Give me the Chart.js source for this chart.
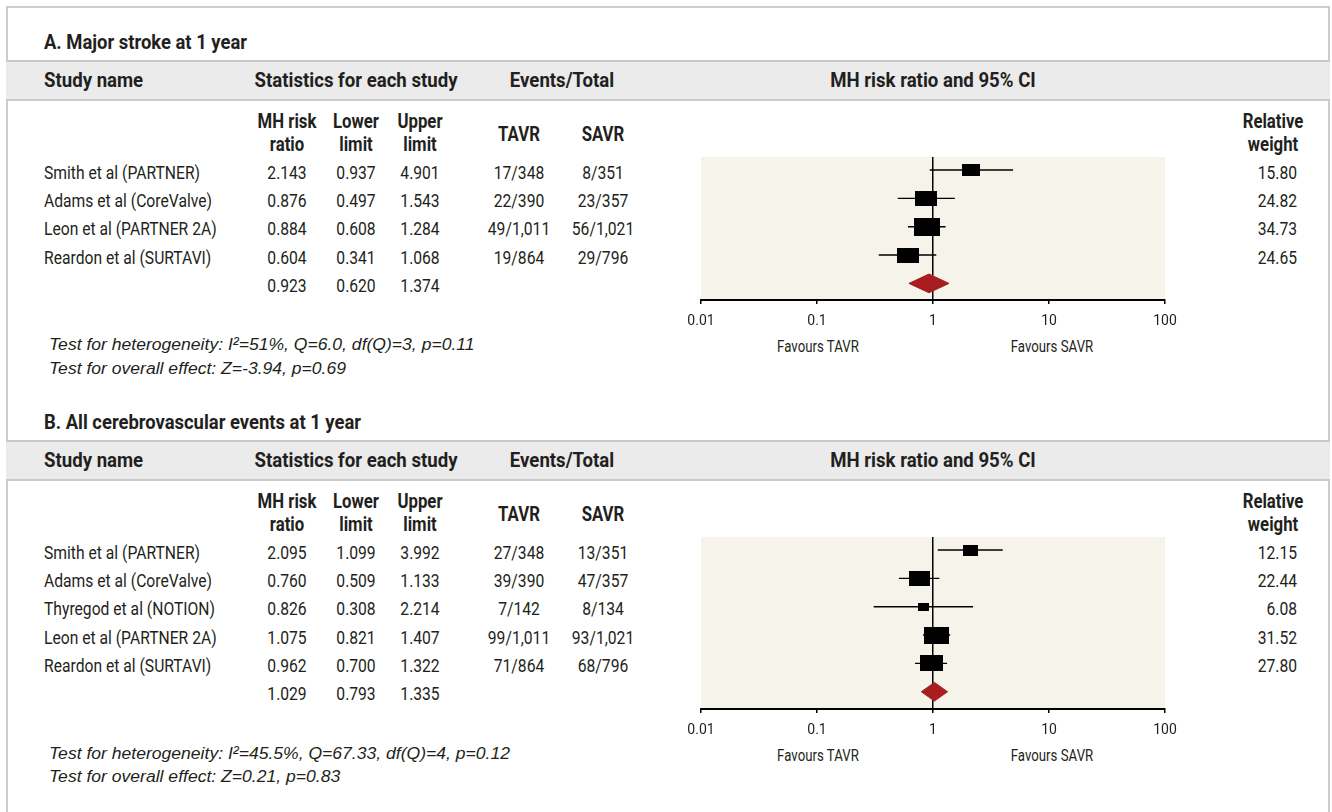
<!DOCTYPE html>
<html>
<head>
<meta charset="utf-8">
<title>Forest plots – stroke and cerebrovascular events at 1 year</title>
<script src="https://cdn.jsdelivr.net/npm/chart.js@4.4.0/dist/chart.umd.min.js"></script>
<style>
  html, body { margin: 0; padding: 0; background: #fff; }
  #fig { position: relative; width: 1332px; height: 812px; overflow: hidden; background: #fff; color: #231f20; }
  .frame { position: absolute; left: 6px; top: 6px; width: 1324px; height: 900px;
           border: 2px solid #cdcdcd; box-sizing: border-box; }
  .band { position: absolute; left: 6px; width: 1324px; height: 41px; background: #ebebeb;
          border-top: 2px solid #c9c9c9; border-bottom: 2px solid #c9c9c9; box-sizing: border-box; }
  .t { position: absolute; white-space: nowrap; line-height: 1; }
  canvas { position: absolute; }
</style>
</head>
<body>
<div id="fig"><div class="frame"></div></div>
<script>
// Log-scale axis shared by both forest plots
const axisTicks = [0.01, 0.1, 1, 10, 100];
const axisTickLabels = ['0.01', '0.1', '1', '10', '100'];

// A. Major stroke at 1 year
const strokeStudies = ['Smith et al (PARTNER)', 'Adams et al (CoreValve)', 'Leon et al (PARTNER 2A)', 'Reardon et al (SURTAVI)'];
const strokeRatio = [2.143, 0.876, 0.884, 0.604];
const strokeLower = [0.937, 0.497, 0.608, 0.341];
const strokeUpper = [4.901, 1.543, 1.284, 1.068];
const strokeTavr = ['17/348', '22/390', '49/1,011', '19/864'];
const strokeSavr = ['8/351', '23/357', '56/1,021', '29/796'];
const strokeWeight = [15.80, 24.82, 34.73, 24.65];
const strokePooled = [0.923, 0.620, 1.374]; // ratio, lower, upper

// B. All cerebrovascular events at 1 year
const cvStudies = ['Smith et al (PARTNER)', 'Adams et al (CoreValve)', 'Thyregod et al (NOTION)', 'Leon et al (PARTNER 2A)', 'Reardon et al (SURTAVI)'];
const cvRatio = [2.095, 0.760, 0.826, 1.075, 0.962];
const cvLower = [1.099, 0.509, 0.308, 0.821, 0.700];
const cvUpper = [3.992, 1.133, 2.214, 1.407, 1.322];
const cvTavr = ['27/348', '39/390', '7/142', '99/1,011', '71/864'];
const cvSavr = ['13/351', '47/357', '8/134', '93/1,021', '68/796'];
const cvWeight = [12.15, 22.44, 6.08, 31.52, 27.80];
const cvPooled = [1.029, 0.793, 1.335];

// Layout and style constants
const ROW_STEP = 28.35;      // vertical distance between study rows
const BOX_AREA = 13.6;       // px² of box per unit of relative weight
const BOX_ASPECT = 1.45;     // width / height of the study boxes
const DIAMOND_HALF = 0.33;   // half-height of the pooled diamond, in rows
const PLOT_L = 701, PLOT_R = 1165, PAD_X = 32, PAD_TOP = 8, AXIS_H = 34;
const COLS = { name: 44, ratio: 287, lower: 355.5, upper: 420, tavr: 518.5, savr: 602.5, weight: 1297 };
const INK = '#231f20', CREAM = '#f6f4ea', DIAMOND = '#a81d1f';

// Condensed type: each style is squeezed horizontally so its sample string fits the given width
const TEXT_STYLES = {
  title: { font: 'bold 20px Roboto', sample: 'A. Major stroke at 1 year', fit: 203 },
  head:  { font: 'bold 21px Roboto', sample: 'Statistics for each study', fit: 203 },
  sub:   { font: 'bold 20px Roboto', sample: 'Lower', fit: 46 },
  cell:  { font: '19px Roboto', sample: 'Smith et al (PARTNER)', fit: 156 },
  note:  { font: 'italic 17.2px "Liberation Sans"', sample: 'Test for overall effect: Z=-3.94, p=0.69', fit: 297 },
  fav:   { font: '17px Roboto', sample: 'Favours TAVR', fit: 82 }
};
const measureCtx = document.createElement('canvas').getContext('2d');
const squeeze = {};
for (const [key, s] of Object.entries(TEXT_STYLES)) {
  measureCtx.font = s.font;
  const w = measureCtx.measureText(s.sample).width;
  squeeze[key] = w > 0 ? s.fit / w : 1;
}

Chart.defaults.font.family = 'Roboto, "DejaVu Sans Condensed", sans-serif';
Chart.defaults.font.size = 14;
Chart.defaults.color = INK;

const fig = document.getElementById('fig');

function put(text, x, y, style, align) {
  const el = document.createElement('div');
  el.className = 't';
  el.textContent = text;
  el.style.font = TEXT_STYLES[style].font;
  el.style.lineHeight = '1';
  el.style.left = x + 'px';
  el.style.top = y + 'px';
  const tx = align === 'center' ? '-50%' : align === 'right' ? '-100%' : '0';
  el.style.transformOrigin = (align === 'center' ? '50%' : align === 'right' ? '100%' : '0') + ' 50%';
  el.style.transform = `translate(${tx}, -50%) scaleX(${squeeze[style]})`;
  fig.appendChild(el);
  return el;
}

// Study box image whose area follows the relative weight
function makeBox(weight) {
  const c = document.createElement('canvas');
  c.width = Math.max(2, Math.round(Math.sqrt(weight * BOX_AREA * BOX_ASPECT)));
  c.height = Math.max(2, Math.round(Math.sqrt(weight * BOX_AREA / BOX_ASPECT)));
  const g = c.getContext('2d');
  g.fillStyle = '#000';
  g.fillRect(0, 0, c.width, c.height);
  return c;
}

// Cream plotting field behind the marks
const plotBackground = {
  id: 'plotBackground',
  beforeDraw(chart) {
    const { ctx, chartArea: a } = chart;
    ctx.save();
    ctx.fillStyle = CREAM;
    ctx.fillRect(a.left, a.top, a.right - a.left, a.bottom - a.top);
    ctx.restore();
  }
};

function drawPanel(p) {
  const dy = p.dy;
  const n = p.studies.length + 1;             // studies plus pooled row
  const firstRow = 170 + dy;
  const rowY = i => firstRow + i * ROW_STEP;  // box centres
  const textY = i => rowY(i) + 1.5;

  put(p.title, COLS.name, 41.7 + dy, 'title', 'left');

  const band = document.createElement('div');
  band.className = 'band';
  band.style.top = (60 + dy) + 'px';
  fig.appendChild(band);
  put('Study name', COLS.name, 80 + dy, 'head', 'left');
  put('Statistics for each study', 356, 80 + dy, 'head', 'center');
  put('Events/Total', 562, 80 + dy, 'head', 'center');
  put('MH risk ratio and 95% CI', 933, 80 + dy, 'head', 'center');

  put('MH risk', COLS.ratio, 121 + dy, 'sub', 'center');
  put('ratio', COLS.ratio, 144 + dy, 'sub', 'center');
  put('Lower', COLS.lower, 121 + dy, 'sub', 'center');
  put('limit', COLS.lower, 144 + dy, 'sub', 'center');
  put('Upper', COLS.upper, 121 + dy, 'sub', 'center');
  put('limit', COLS.upper, 144 + dy, 'sub', 'center');
  put('TAVR', COLS.tavr, 133.5 + dy, 'sub', 'center');
  put('SAVR', COLS.savr, 133.5 + dy, 'sub', 'center');
  put('Relative', 1273, 121 + dy, 'sub', 'center');
  put('weight', 1273, 144 + dy, 'sub', 'center');

  p.studies.forEach((name, i) => {
    const y = textY(i);
    put(name, COLS.name, y, 'cell', 'left');
    put(p.ratio[i].toFixed(3), COLS.ratio, y, 'cell', 'center');
    put(p.lower[i].toFixed(3), COLS.lower, y, 'cell', 'center');
    put(p.upper[i].toFixed(3), COLS.upper, y, 'cell', 'center');
    put(p.tavr[i], COLS.tavr, y, 'cell', 'center');
    put(p.savr[i], COLS.savr, y, 'cell', 'center');
    put(p.weight[i].toFixed(2), COLS.weight, y, 'cell', 'right');
  });
  const py = textY(n - 1);
  put(p.pooled[0].toFixed(3), COLS.ratio, py, 'cell', 'center');
  put(p.pooled[1].toFixed(3), COLS.lower, py, 'cell', 'center');
  put(p.pooled[2].toFixed(3), COLS.upper, py, 'cell', 'center');

  put(p.note1, 49, py + 60.5, 'note', 'left');
  put(p.note2, 49, py + 84, 'note', 'left');

  // Forest plot canvas
  const chartTop = firstRow - 13;
  const plotH = Math.round(rowY(n - 1) + 17 - chartTop);
  const canvas = document.createElement('canvas');
  canvas.width = PLOT_R - PLOT_L + 2 * PAD_X;
  canvas.height = PAD_TOP + plotH + AXIS_H;
  canvas.style.left = (PLOT_L - PAD_X) + 'px';
  canvas.style.top = (chartTop - PAD_TOP) + 'px';
  fig.appendChild(canvas);

  put('Favours TAVR', 818, chartTop + plotH + 46, 'fav', 'center');
  put('Favours SAVR', 1052, chartTop + plotH + 46, 'fav', 'center');

  const yMin = 1 - 13 / ROW_STEP;
  const yMax = yMin + plotH / ROW_STEP;

  const whiskers = [];
  p.studies.forEach((_, i) => {
    whiskers.push({ x: p.lower[i], y: i + 1 }, { x: p.upper[i], y: i + 1 }, { x: p.upper[i], y: null });
  });
  const boxes = p.ratio.map((r, i) => ({ x: r, y: i + 1 }));
  const [pr, pl, pu] = p.pooled;
  const diamond = [
    { x: pl, y: n }, { x: pr, y: n - DIAMOND_HALF }, { x: pu, y: n }, { x: pr, y: n + DIAMOND_HALF }, { x: pl, y: n }
  ];

  new Chart(canvas, {
    type: 'line',
    data: {
      datasets: [
        { label: 'Study', data: boxes, showLine: false, order: 1,
          pointStyle: p.weight.map(makeBox), pointRadius: 6, pointBorderWidth: 0 },
        { label: 'Pooled', data: diamond, order: 2, fill: 'shape', tension: 0,
          borderColor: DIAMOND, backgroundColor: DIAMOND, borderWidth: 1, pointRadius: 0 },
        { label: '95% CI', data: whiskers, order: 3, spanGaps: false, tension: 0,
          borderColor: '#000', borderWidth: 1.4, pointRadius: 0 }
      ]
    },
    options: {
      responsive: false,
      maintainAspectRatio: false,
      animation: false,
      events: [],
      layout: { padding: { left: PAD_X, right: PAD_X, top: PAD_TOP, bottom: 0 } },
      plugins: { legend: { display: false }, tooltip: { enabled: false } },
      scales: {
        x: {
          type: 'logarithmic', min: axisTicks[0], max: axisTicks[axisTicks.length - 1],
          afterBuildTicks(scale) { scale.ticks = axisTicks.map(v => ({ value: v })); },
          afterFit(scale) { scale.height = AXIS_H; },
          ticks: {
            autoSkip: false, maxRotation: 0, padding: 9.5, color: INK,
            callback: v => axisTickLabels[axisTicks.indexOf(v)]
          },
          grid: {
            drawOnChartArea: true, drawTicks: true, tickLength: 4, tickWidth: 1.5, tickColor: '#000',
            lineWidth: 1.5,
            color: ctx => (ctx.tick && ctx.tick.value === 1 ? '#000' : 'rgba(0,0,0,0)')
          },
          border: { display: true, color: '#000', width: 2 }
        },
        y: { type: 'linear', reverse: true, min: yMin, max: yMax, display: false }
      }
    },
    plugins: [plotBackground]
  });
}

drawPanel({
  dy: 0, title: 'A. Major stroke at 1 year',
  studies: strokeStudies, ratio: strokeRatio, lower: strokeLower, upper: strokeUpper,
  tavr: strokeTavr, savr: strokeSavr, weight: strokeWeight, pooled: strokePooled,
  note1: 'Test for heterogeneity: I²=51%, Q=6.0, df(Q)=3, p=0.11',
  note2: 'Test for overall effect: Z=-3.94, p=0.69'
});
drawPanel({
  dy: 380, title: 'B. All cerebrovascular events at 1 year',
  studies: cvStudies, ratio: cvRatio, lower: cvLower, upper: cvUpper,
  tavr: cvTavr, savr: cvSavr, weight: cvWeight, pooled: cvPooled,
  note1: 'Test for heterogeneity: I²=45.5%, Q=67.33, df(Q)=4, p=0.12',
  note2: 'Test for overall effect: Z=0.21, p=0.83'
});
</script>
</body>
</html>
